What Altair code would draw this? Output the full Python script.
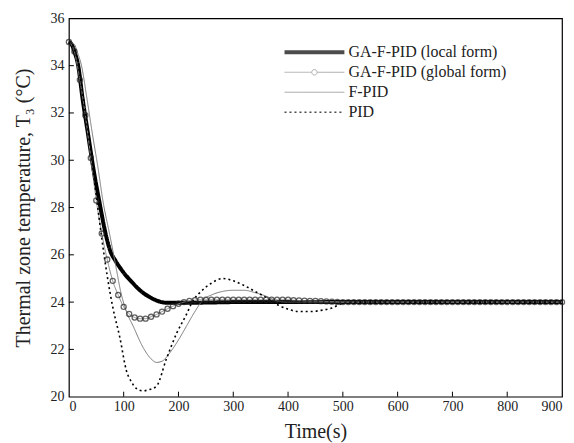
import altair as alt
import pandas as pd

# ---- data ----
local_t = [0, 5, 10, 17, 25, 35, 45, 56, 66, 75, 85, 95, 105, 115, 125, 135, 150, 166, 180, 200, 250, 300, 400, 500, 600, 700, 800, 900]
local_T = [35.0, 34.9, 34.6, 34.0, 32.6, 31.1, 29.6, 28.2, 27.0, 26.2, 25.75, 25.4, 25.1, 24.85, 24.6, 24.4, 24.18, 24.02, 23.97, 23.97, 23.98, 24.0, 24.0, 24.0, 24.0, 24.0, 24.0, 24.0]

global_t = list(range(0, 910, 10))
global_T = [35.0, 34.6, 33.4, 31.9, 30.1, 28.3, 26.9, 25.8, 24.9, 24.3,
            23.8, 23.5, 23.35, 23.3, 23.3, 23.38, 23.48, 23.6, 23.72, 23.83,
            23.93, 24.0, 24.05, 24.08, 24.1, 24.1, 24.1, 24.1, 24.1, 24.1,
            24.1, 24.1, 24.1, 24.1, 24.1, 24.1, 24.1, 24.1, 24.1, 24.1,
            24.1, 24.08, 24.07, 24.06, 24.05, 24.05, 24.04, 24.03, 24.02, 24.01,
            24.0, 24.0, 24.0, 24.0, 24.0, 24.0, 24.0, 24.0, 24.0, 24.0,
            24.0, 24.0, 24.0, 24.0, 24.0, 24.0, 24.0, 24.0, 24.0, 24.0,
            24.0, 24.0, 24.0, 24.0, 24.0, 24.0, 24.0, 24.0, 24.0, 24.0,
            24.0, 24.0, 24.0, 24.0, 24.0, 24.0, 24.0, 24.0, 24.0, 24.0,
            24.0]

fpid_t = [0, 10, 15, 23, 33, 43, 53, 62, 75, 85, 95, 105, 117, 135, 150, 160, 170, 184, 200, 215, 230, 245, 260, 280, 300, 320, 340, 360, 380, 400, 500, 900]
fpid_T = [35.0, 34.9, 34.6, 34.0, 32.6, 31.1, 29.7, 28.3, 26.8, 25.6, 24.4, 23.6, 23.0, 22.1, 21.6, 21.45, 21.5, 21.85, 22.4, 23.0, 23.6, 24.1, 24.3, 24.45, 24.5, 24.5, 24.4, 24.25, 24.05, 24.0, 24.0, 24.0]

pid_t = [0, 10, 20, 30, 40, 50, 60, 70, 80, 93, 105, 115, 123, 135, 147, 160, 178, 197, 215, 225, 239, 260, 281, 300, 320, 340, 360, 380, 400, 420, 440, 460, 480, 500, 520, 600, 900]
pid_T = [35.0, 34.7, 33.6, 32.0, 30.3, 28.5, 26.7, 25.1, 23.8, 22.5, 21.1, 20.6, 20.35, 20.25, 20.3, 20.45, 21.6, 22.7, 23.5, 24.0, 24.4, 24.8, 25.0, 24.9, 24.7, 24.45, 24.2, 23.9, 23.7, 23.6, 23.6, 23.65, 23.75, 23.95, 24.0, 24.0, 24.0]

series_names = ["GA-F-PID (local form)", "GA-F-PID (global form)", "F-PID", "PID"]
x_ticks = [0, 100, 200, 300, 400, 500, 600, 700, 800, 900]
y_ticks = [20, 22, 24, 26, 28, 30, 32, 34, 36]

# ---- tables ----
rows = []
for name, ts, vs in [(series_names[0], local_t, local_T),
                     (series_names[1], global_t, global_T),
                     (series_names[2], fpid_t, fpid_T),
                     (series_names[3], pid_t, pid_T)]:
    for i, (t, v) in enumerate(zip(ts, vs)):
        rows.append({"t": t, "T": v, "series": name, "order": i})
df = pd.DataFrame(rows)
df_global = pd.DataFrame({"t": global_t, "T": global_T})
df_xt = pd.DataFrame({"t": x_ticks[1:-1]})
df_yt = pd.DataFrame({"T": y_ticks[1:-1]})

W, H = 494, 379
xs = alt.Scale(domain=[0, 900], nice=False)
ys = alt.Scale(domain=[20, 36], nice=False)

line_path = "M-1,0H1"
circ_path = "M-1,0H-0.09M0.09,0H1M0.09,0A0.09,0.09 0 1 1 -0.09,0A0.09,0.09 0 1 1 0.09,0"

leg = alt.Legend(title=None, orient="none", legendX=214, legendY=24,
                 symbolSize=3600, labelFontSize=16, clipHeight=20,
                 labelFont="Liberation Serif", labelColor="#222", rowPadding=0,
                 labelOffset=2)

color_enc = alt.Color("series:N", scale=alt.Scale(domain=series_names,
                      range=["black", "#8a8a8a", "#777777", "black"]), legend=leg)
sw_enc = alt.StrokeWidth("series:N", scale=alt.Scale(type="ordinal", domain=series_names,
                      range=[4, 1, 1, 1.6]), legend=leg)
sd_enc = alt.StrokeDash("series:N", scale=alt.Scale(domain=series_names,
                      range=[[1, 0], [1, 0], [1, 0], [2, 3]]), legend=leg)

lines = alt.Chart(df).mark_line(interpolate="monotone").encode(
    x=alt.X("t:Q", scale=xs, title="Time(s)",
            axis=alt.Axis(values=x_ticks, ticks=False, domain=False, grid=False,
                          labelFontSize=14, labelPadding=3, titleFontSize=20,
                          titleFontWeight="normal", titlePadding=8, labelColor="#222", titleColor="#222")),
    y=alt.Y("T:Q", scale=ys, title="Thermal zone temperature, T₃ (°C)",
            axis=alt.Axis(values=y_ticks, ticks=False, domain=False, grid=False,
                          labelFontSize=14, labelPadding=5, titleFontSize=20,
                          titleFontWeight="normal", titlePadding=16, labelColor="#222", titleColor="#222")),
    color=color_enc, strokeWidth=sw_enc, strokeDash=sd_enc,
    order="order:Q",
)

# legend-only layer (no rows drawn) that gives the legend its symbol shapes
legend_layer = alt.Chart(df).mark_point(filled=False).encode(
    x=alt.X("t:Q", scale=xs), y=alt.Y("T:Q", scale=ys),
    color=color_enc, strokeWidth=sw_enc, strokeDash=sd_enc,
    shape=alt.Shape("series:N", scale=alt.Scale(domain=series_names,
                    range=[line_path, circ_path, line_path, line_path]), legend=leg),
).transform_filter("false")

points = alt.Chart(df_global).mark_point(shape="circle", filled=False, color="#222",
                                         size=26, strokeWidth=1.3).encode(
    x=alt.X("t:Q", scale=xs), y=alt.Y("T:Q", scale=ys))

xt = alt.Chart(df_xt).mark_rule(color="black", strokeWidth=1).encode(
    x=alt.X("t:Q", scale=xs), y=alt.value(H), y2=alt.value(H - 5))
yt = alt.Chart(df_yt).mark_rule(color="black", strokeWidth=1).encode(
    y=alt.Y("T:Q", scale=ys), x=alt.value(0), x2=alt.value(5))

chart = alt.layer(lines, legend_layer, points, xt, yt).properties(
    width=W, height=H,
    autosize=alt.AutoSizeParams(type="none"),
    padding={"left": 61, "top": 10, "right": 4, "bottom": 46},
).configure(font="Liberation Serif").configure_view(stroke="black", strokeWidth=1.2)

chart.save("out.html", embed_options={"renderer": "svg", "actions": False})
